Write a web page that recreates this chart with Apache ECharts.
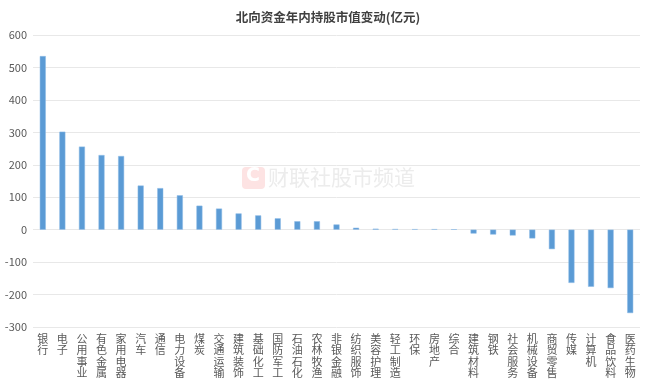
<!DOCTYPE html>
<html>
<head>
<meta charset="utf-8">
<script src="https://cdn.jsdelivr.net/npm/echarts@6/dist/echarts.min.js"></script>
<style>html,body{margin:0;padding:0;background:#fff}#c{width:656px;height:383px}</style>
</head>
<body>
<div id="c"></div>
<script>
const categories = ['银行','电子','公用事业','有色金属','家用电器','汽车','通信','电力设备','煤炭','交通运输','建筑装饰','基础化工','国防军工','石油石化','农林牧渔','非银金融','纺织服饰','美容护理','轻工制造','环保','房地产','综合','建筑材料','钢铁','社会服务','机械设备','商贸零售','传媒','计算机','食品饮料','医药生物'];
const values = [535,302,256,230,227,136,128,106,74,65,50,44,35,26,26,16,6,3,2,1.5,1.5,1,-12,-15,-18,-27,-60,-164,-176,-180,-257];
const yTicks = [-300,-200,-100,0,100,200,300,400,500,600];
const titleText = '北向资金年内持股市值变动(亿元)';

const font = '"Noto Sans CJK SC", sans-serif';
const chart = echarts.init(document.getElementById('c'));
chart.setOption({
  animation: false,
  title: {
    text: titleText, left: 'center', top: 6,
    textStyle: {fontFamily: font, fontSize: 12.5, fontWeight: 'bold', color: '#404040'}
  },
  graphic: [
    {type: 'rect', left: 242, top: 167, shape: {width: 23, height: 22, r: 4}, style: {fill: '#fde3e3'}, z: 0},
    {type: 'text', left: 246, top: 167, style: {text: 'C', font: 'bold 19px "DejaVu Sans"', fill: '#ffffff'}, z: 0},
    {type: 'text', left: 268, top: 167, style: {text: '财联社股市频道', font: '21px "Noto Sans CJK SC"', fill: '#ececec'}, z: 0}
  ],
  grid: {left: 33, right: 16, top: 35, bottom: 56, containLabel: false},
  xAxis: {
    type: 'category', data: categories,
    axisLine: {show: false, onZero: false}, axisTick: {show: false},
    axisLabel: {
      interval: 0, margin: 6, fontFamily: font, fontSize: 11, lineHeight: 11.5, color: '#595959',
      formatter: v => v.split('').join('\n'), verticalAlign: 'top'
    }
  },
  yAxis: {
    type: 'value', min: yTicks[0], max: yTicks[yTicks.length-1], interval: 100,
    axisLine: {show: false}, axisTick: {show: false},
    axisLabel: {fontFamily: font, fontSize: 11, color: '#595959', margin: 6},
    splitLine: {lineStyle: {color: '#e8e8e8', width: 1}}
  },
  series: [{
    type: 'bar', data: values, barWidth: 6,
    itemStyle: {color: '#5b9bd5', borderColor: '#8cbbe6', borderWidth: 0.5},
    z: 2
  }]
});
</script>
</body>
</html>
